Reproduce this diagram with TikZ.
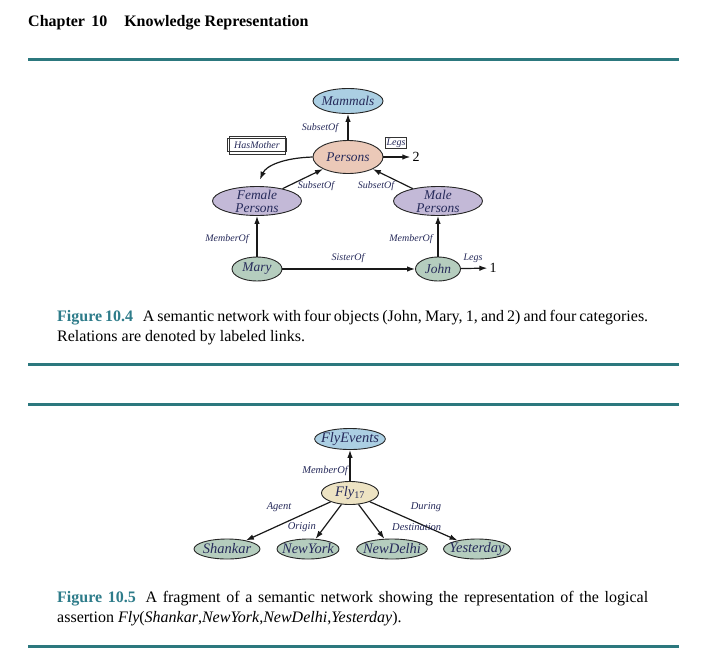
\documentclass[tikz,border=0pt]{standalone}
\usepackage{fontspec}
\setmainfont{Liberation Serif}
\usetikzlibrary{shapes.geometric,arrows.meta}
\definecolor{rulecol}{HTML}{2C787E}
\definecolor{figcol}{HTML}{2E7C8A}
\definecolor{ink}{HTML}{262A5A}
\definecolor{lblue}{HTML}{ABCFE3}
\definecolor{peach}{HTML}{EBC9B8}
\definecolor{lav}{HTML}{C3B9D7}
\definecolor{sage}{HTML}{B5CDBE}
\definecolor{beige}{HTML}{EDE3C3}
\begin{document}
\begin{tikzpicture}[x=1pt,y=-1pt,
  ell/.style={ellipse,draw=black!85,line width=0.9pt,inner sep=-4pt,text=ink,
    font=\fontsize{13.4}{13}\selectfont\itshape,align=center},
  ellb/.style={ell,font=\fontsize{14.5}{14}\selectfont\itshape},
  arr/.style={-{Latex[length=8pt,width=5.5pt]},line width=1.2pt,draw=black!90},
  elab/.style={font=\fontsize{10}{11}\selectfont\itshape,text=ink,inner sep=0pt},
  elabb/.style={font=\fontsize{10.5}{11}\selectfont\itshape,text=ink,inner sep=0pt},
  numlab/.style={font=\fontsize{14}{14}\selectfont,inner sep=0pt},
  rulebar/.style={line width=3pt,draw=rulecol},
  boxline/.style={draw=black!80,line width=0.6pt},
  captext/.style={font=\fontsize{16}{20}\selectfont,text width=591pt,align=justify,inner sep=0pt,anchor=base west},
]
\useasboundingbox (0,0) rectangle (717,667);
\fill[white] (0,0) rectangle (717,667);

% header
\node[anchor=base west,inner sep=0pt,font=\fontsize{16}{18}\selectfont\bfseries] (chap) at (28,26)
  {Chapter\hspace{0.4em}10\hspace{1.05em}Knowledge Representation};

% rules
\draw[rulebar] (28,59) -- (679,59);
\draw[rulebar] (28,364) -- (679,364);
\draw[rulebar] (28,404) -- (679,404);
\draw[rulebar] (28,646) -- (679,646);

% ---------- Figure 10.4 ----------
\node[ell,fill=lblue,minimum width=70pt,minimum height=25pt] (mammals) at (348,101) {Mammals};
\node[ell,fill=peach,minimum width=70pt,minimum height=33pt] (persons) at (348,157) {Persons};
\node[ell,fill=lav,minimum width=89pt,minimum height=29pt] (female) at (257,201) {Female\\Persons};
\node[ell,fill=lav,minimum width=89pt,minimum height=29pt] (male) at (438,201) {Male\\Persons};
\node[ell,fill=sage,minimum width=50pt,minimum height=24pt] (mary) at (257,269) {Mary};
\node[ell,fill=sage,minimum width=45pt,minimum height=24pt] (john) at (438,269) {John};
\node[numlab] (two) at (416,157) {2};
\node[numlab] (one) at (493,268) {1};

\node[boxline,elab,minimum width=59pt,minimum height=13pt] (hasmother) at (257,145) {HasMother};
\draw[boxline] ([shift={(2pt,2pt)}]hasmother.north west) rectangle ([shift={(-2pt,-2pt)}]hasmother.south east);
\node[boxline,elab,inner sep=1.3pt] (legsbox) at (396,143) {Legs};

\draw[arr] (persons) -- (mammals);
\draw[arr] (female) -- (persons);
\draw[arr] (male) -- (persons);
\draw[arr] (mary) -- (female);
\draw[arr] (john) -- (male);
\draw[arr] (mary) -- (john);
\draw[arr,shorten >=2pt] (persons) -- (two);
\draw[arr,shorten >=2pt] (john) -- (one);
\draw[arr,shorten >=7pt] (persons.west) .. controls +(-30,1) and +(9,-20) .. (female.north);

\node[elab] (lsub1) at (320,128) {SubsetOf};
\node[elab] (lsub2) at (316,186) {SubsetOf};
\node[elab] (lsub3) at (376,186) {SubsetOf};
\node[elab] (lmem1) at (227,239) {MemberOf};
\node[elab] (lmem2) at (411,239) {MemberOf};
\node[elab] (lsis) at (348,258) {SisterOf};
\node[elab] (llegs) at (473,258) {Legs};

\node[captext] (cap4) at (57,321) {{\bfseries\color{figcol}Figure 10.4}\hspace{0.6em}A semantic network with four objects (John, Mary, 1, and 2) and four categories.\linebreak Relations are denoted by labeled links.};

% ---------- Figure 10.5 ----------
\node[ellb,fill=lblue,minimum width=63pt,minimum height=21pt] (flyev) at (350,439) {FlyEvents};
\node[ellb,fill=beige,minimum width=57pt,minimum height=23pt] (fly) at (350,493) {Fly\textsubscript{\upshape 17}};
\node[ellb,fill=sage,minimum width=66pt,minimum height=20pt] (shankar) at (227,549) {Shankar};
\node[ellb,fill=sage,minimum width=58pt,minimum height=20pt] (newyork) at (308,549) {NewYork};
\node[ellb,fill=sage,minimum width=57pt,minimum height=20pt] (newdelhi) at (392,549) {NewDelhi};
\node[ellb,fill=sage,minimum width=61pt,minimum height=20pt] (yesterday) at (477,549) {Yesterday};

\draw[arr] (fly) -- (flyev);
\draw[arr] (fly) -- (shankar);
\draw[arr] (fly) -- (newyork);
\draw[arr] (fly) -- (newdelhi);
\draw[arr] (fly) -- (yesterday);

\node[elabb,anchor=east] (lmemb) at (348,471) {MemberOf};
\node[elabb] (lagent) at (279,507) {Agent};
\node[elabb,anchor=east] (lorigin) at (316,527) {Origin};
\node[elabb,anchor=west] (ldest) at (392,527) {Destination};
\node[elabb] (lduring) at (426,507) {During};

\node[captext] (cap5) at (57,602) {{\bfseries\color{figcol}Figure 10.5}\hspace{0.6em}A fragment of a semantic network showing the representation of the logical\linebreak assertion \textit{Fly}(\textit{Shankar},\textit{NewYork},\textit{NewDelhi},\textit{Yesterday}).};
\end{tikzpicture}
\end{document}
